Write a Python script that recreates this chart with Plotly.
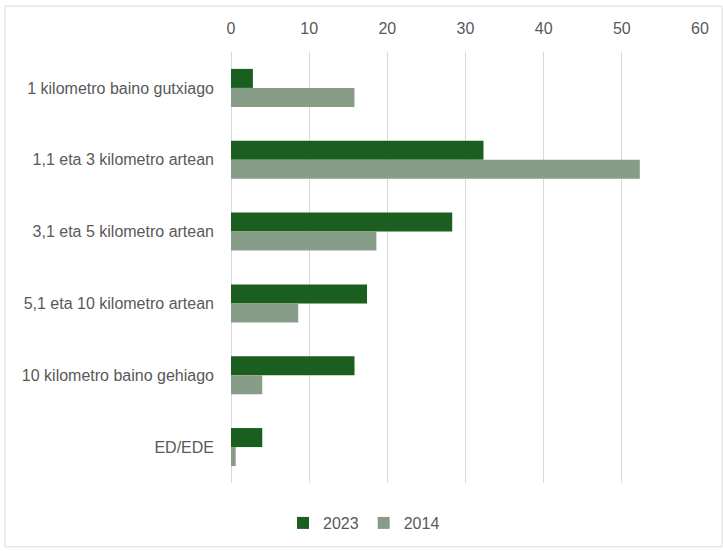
import plotly.graph_objects as go

categories = [
    "1 kilometro baino gutxiago",
    "1,1 eta 3 kilometro artean",
    "3,1 eta 5 kilometro artean",
    "5,1 eta 10 kilometro artean",
    "10 kilometro baino gehiago",
    "ED/EDE",
]
values_2023 = [2.8, 32.3, 28.3, 17.4, 15.8, 4.0]
values_2014 = [15.8, 52.3, 18.6, 8.6, 4.0, 0.6]

fig = go.Figure()
fig.add_trace(go.Bar(y=categories, x=values_2023, name="2023", orientation="h",
                     marker=dict(color="#1a5e20", line=dict(width=0))))
fig.add_trace(go.Bar(y=categories, x=values_2014, name="2014", orientation="h",
                     marker=dict(color="#889d87", line=dict(width=0))))

L, R, T, B = 231, 23, 52, 67
W, H = 723, 551
pw = W - L - R
ph = H - T - B

fig.update_layout(
    width=W, height=H,
    margin=dict(l=L, r=R, t=T, b=B),
    paper_bgcolor="white", plot_bgcolor="white",
    barmode="group", bargap=0.47, bargroupgap=0,
    font=dict(family="Liberation Sans", size=16, color="#595959"),
    xaxis=dict(side="top", range=[0, 60], dtick=10, showgrid=True,
               gridcolor="#d9d9d9", gridwidth=1, zeroline=True,
               zerolinecolor="#d9d9d9", zerolinewidth=1, showline=False,
               ticks="", ticklabelstandoff=14,
               tickfont=dict(size=16, color="#595959")),
    yaxis=dict(autorange="reversed", showgrid=False, showline=False,
               ticks="", ticklabelstandoff=16,
               tickfont=dict(size=16, color="#595959")),
    legend=dict(orientation="h", x=(364 - L) / pw, xanchor="center",
                y=-(523 - (T + ph)) / ph, yanchor="middle",
                font=dict(size=16, color="#595959"),
                itemwidth=30, traceorder="normal"),
    showlegend=True,
)

fig.add_shape(type="rect", xref="paper", yref="paper",
              x0=(5 - L) / pw, x1=(W - 1 - L) / pw,
              y0=-(H - 3 - (T + ph)) / ph, y1=(T + ph - 6) / ph,
              line=dict(color="#d9d9d9", width=1), fillcolor="rgba(0,0,0,0)",
              layer="below")

fig.write_html("out.html")
